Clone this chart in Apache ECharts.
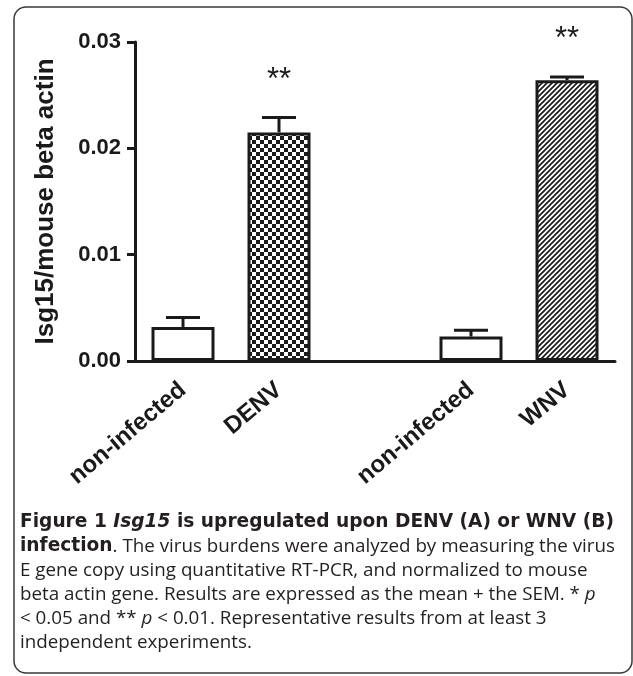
<!DOCTYPE html>
<html>
<head>
<meta charset="utf-8">
<script src="https://cdn.jsdelivr.net/npm/echarts@6/dist/echarts.min.js"></script>
<style>
html,body{margin:0;padding:0;background:#fff;}
#chart{width:633px;height:676px;}
</style>
</head>
<body>
<div id="chart"></div>
<script>
// ---- data ----
var categories = ['non-infected', 'DENV', '', 'non-infected', 'WNV'];
var means = [0.0032, 0.0215, null, 0.0023, 0.0264];
var sems = [0.0009, 0.0014, null, 0.0006, 0.0003];
var significance = ['', '**', '', '', '**'];
var fills = ['white', 'checker', 'none', 'white', 'hatch'];
var yTicks = [0, 0.01, 0.02, 0.03];
var yTitle = 'Isg15/mouse beta actin';

// ---- patterns ----
function checker() {
  var c = document.createElement('canvas');
  c.width = 8; c.height = 8;
  var g = c.getContext('2d');
  g.fillStyle = '#fff'; g.fillRect(0, 0, 8, 8);
  g.fillStyle = '#1a1a1a';
  g.fillRect(0, 0, 4, 4); g.fillRect(4, 4, 4, 4);
  return c;
}
function hatch() {
  var s = 5;
  var c = document.createElement('canvas');
  c.width = s; c.height = s;
  var g = c.getContext('2d');
  g.fillStyle = '#fff'; g.fillRect(0, 0, s, s);
  g.strokeStyle = '#1a1a1a'; g.lineWidth = 1.7;
  g.beginPath();
  g.moveTo(-1, s + 1); g.lineTo(s + 1, -1);
  g.moveTo(-1, 1); g.lineTo(1, -1);
  g.moveTo(s - 1, s + 1); g.lineTo(s + 1, s - 1);
  g.stroke();
  return c;
}
var patterns = {
  white: '#ffffff',
  checker: { image: checker(), repeat: 'repeat' },
  hatch: { image: hatch(), repeat: 'repeat' },
  none: 'transparent'
};

var barData = means.map(function (m, i) {
  return { value: m, itemStyle: { color: patterns[fills[i]] } };
});
var errData = [];
means.forEach(function (m, i) {
  if (m !== null) errData.push([i, m, sems[i]]);
});

var ink = '#1a1a1a';
var txt = '#231f20';
var cap = { reg: 18.8, bold: 18.6, lh: 24 };
var boldFont = 'DejaVu Sans';
var chart = echarts.init(document.getElementById('chart'), null, { renderer: 'canvas' });
chart.setOption({
  animation: false,
  backgroundColor: '#fff',
  grid: { left: 135, right: 18, top: 42, bottom: 315, containLabel: false },
  xAxis: {
    type: 'category',
    data: categories,
    axisLine: { lineStyle: { color: ink, width: 3 } },
    axisTick: { alignWithLabel: true, length: 9, lineStyle: { color: ink, width: 3 } },
    axisLabel: {
      interval: 0, rotate: 40, margin: 26,
      fontFamily: 'Liberation Sans, Arial, sans-serif', fontWeight: 'bold', fontSize: 24, color: ink
    },
    splitLine: { show: false }
  },
  yAxis: {
    type: 'value',
    min: yTicks[0], max: yTicks[yTicks.length - 1], interval: 0.01,
    name: yTitle,
    nameLocation: 'middle',
    nameGap: 76,
    nameTextStyle: { fontFamily: 'Liberation Sans, Arial, sans-serif', fontWeight: 'bold', fontSize: 26, color: ink },
    axisLine: { show: true, lineStyle: { color: ink, width: 3 } },
    axisTick: { show: true, length: 8, lineStyle: { color: ink, width: 3 } },
    axisLabel: {
      margin: 14,
      formatter: function (v) { return v.toFixed(2); },
      fontFamily: 'Liberation Sans, Arial, sans-serif', fontWeight: 'bold', fontSize: 22, color: ink
    },
    splitLine: { show: false }
  },
  series: [
    {
      type: 'bar',
      data: barData,
      barWidth: 63,
      itemStyle: { borderColor: ink, borderWidth: 3 },
      z: 2
    },
    {
      type: 'custom',
      data: errData,
      z: 3,
      clip: false,
      renderItem: function (params, api) {
        var i = api.value(0), m = api.value(1), s = api.value(2);
        var base = api.coord([i, m]);
        var top = api.coord([i, m + s]);
        var half = 17;
        var children = [
          { type: 'line', shape: { x1: base[0], y1: base[1], x2: top[0], y2: top[1] }, style: { stroke: ink, lineWidth: 3 } },
          { type: 'line', shape: { x1: top[0] - half, y1: top[1], x2: top[0] + half, y2: top[1] }, style: { stroke: ink, lineWidth: 3 } }
        ];
        var sig = significance[i];
        if (sig) {
          children.push({
            type: 'text',
            style: {
              text: sig, x: top[0], y: top[1] - 22,
              align: 'center', verticalAlign: 'bottom',
              fontFamily: 'Liberation Sans, Arial, sans-serif', fontSize: 31, fill: ink
            }
          });
        }
        return { type: 'group', children: children };
      }
    }
  ],
  graphic: [
    {
      type: 'rect', z: 0,
      shape: { x: 14, y: 7, width: 618, height: 666, r: 12 },
      style: { fill: 'none', stroke: '#3a3a3a', lineWidth: 1.5 }
    },
    {
      type: 'text', left: 20, top: 513,
      style: {
        text: [
          '{b|Figure 1 }{bi|Isg15}{b| is upregulated upon DENV (A) or WNV (B)}',
          '{b|infection}{n|. The virus burdens were analyzed by measuring the virus}',
          '{n|E gene copy using quantitative RT-PCR, and normalized to mouse}',
          '{n|beta actin gene. Results are expressed as the mean + the SEM. * }{i|p}',
          '{n|< 0.05 and ** }{i|p}{n| < 0.01. Representative results from at least 3}',
          '{n|independent experiments.}'
        ].join('\n'),
        rich: {
          b: { fontFamily: boldFont, fontWeight: 'bold', fontSize: cap.bold, lineHeight: cap.lh, fill: txt },
          bi: { fontFamily: boldFont, fontWeight: 'bold', fontStyle: 'italic', fontSize: cap.bold, lineHeight: cap.lh, fill: txt },
          n: { fontFamily: 'Open Sans', fontSize: cap.reg, lineHeight: cap.lh, fill: txt },
          i: { fontFamily: 'Open Sans', fontStyle: 'italic', fontSize: cap.reg, lineHeight: cap.lh, fill: txt }
        }
      }
    }
  ]
});
</script>
</body>
</html>
